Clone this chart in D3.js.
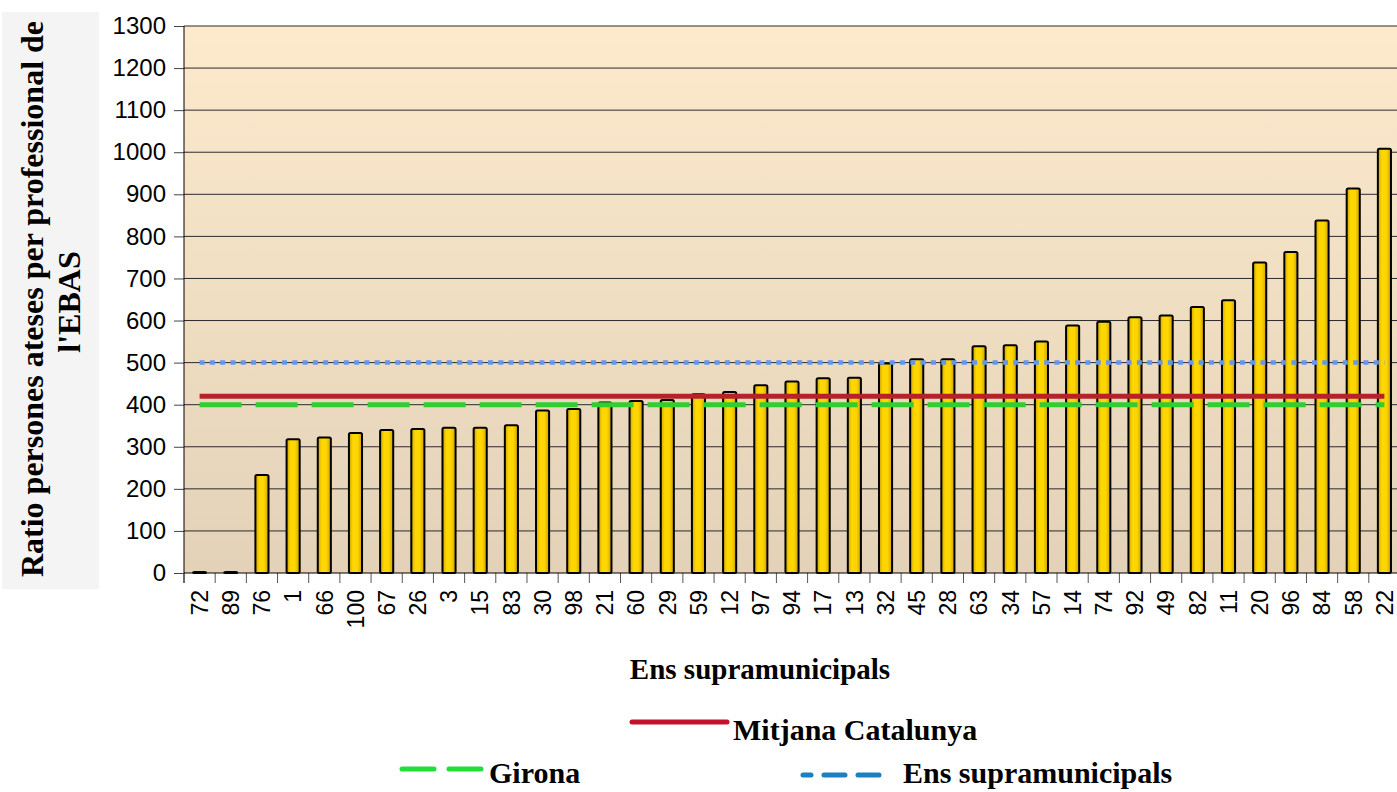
<!DOCTYPE html>
<html>
<head>
<meta charset="utf-8">
<script src="https://cdn.jsdelivr.net/npm/d3@7"></script>
<style>
  html, body { margin: 0; padding: 0; background: #fff; }
  svg { display: block; }
</style>
</head>
<body>
<div id="chart"></div>
<script>
// categories (Ens supramunicipals), sorted by ratio
const categories = ['72','89','76','1','66','100','67','26','3','15','83','30','98','21','60','29','59','12','97','94',
  '17','13','32','45','28','63','34','57','14','74','92','49','82','11','20','96','84','58','22'];
const ratios = [0, 0, 233, 318, 322, 333, 340, 342, 345, 345, 351, 386, 390, 405, 409, 411, 425, 430, 446, 455,
  463, 464, 498, 508, 508, 539, 541, 550, 588, 597, 608, 612, 632, 648, 738, 763, 838, 914, 1008];
const mitjanaCatalunya = 420;
const girona = 400;
const ensSupramunicipals = 500;
const yTicks = [0,100,200,300,400,500,600,700,800,900,1000,1100,1200,1300];

const W = 1397, H = 792;
const plot = { left: 184, right: 1400, top: 26, bottom: 573 };

const svg = d3.select('#chart').append('svg')
  .attr('width', W).attr('height', H);

const defs = svg.append('defs');
const bg = defs.append('linearGradient').attr('id', 'bg')
  .attr('x1', 0).attr('y1', 0).attr('x2', 0).attr('y2', 1);
bg.append('stop').attr('offset', '0%').attr('stop-color', '#fdeacd');
bg.append('stop').attr('offset', '100%').attr('stop-color', '#e3d2b8');

const barGrad = defs.append('linearGradient').attr('id', 'bar')
  .attr('x1', 0).attr('y1', 0).attr('x2', 1).attr('y2', 0);
barGrad.append('stop').attr('offset', '0%').attr('stop-color', '#c9a200');
barGrad.append('stop').attr('offset', '30%').attr('stop-color', '#ffd700');
barGrad.append('stop').attr('offset', '65%').attr('stop-color', '#ffd500');
barGrad.append('stop').attr('offset', '100%').attr('stop-color', '#c9a200');

// y title panel
svg.append('rect').attr('x', 2).attr('y', 12).attr('width', 97).attr('height', 577)
  .attr('fill', '#f4f4f4');

// plot background
svg.append('rect')
  .attr('x', plot.left).attr('y', plot.top)
  .attr('width', W - plot.left).attr('height', plot.bottom - plot.top)
  .attr('fill', 'url(#bg)');

const x = d3.scaleBand()
  .domain(categories)
  .range([plot.left, plot.right])
  .paddingInner(0.58)
  .paddingOuter(0.29);

const y = d3.scaleLinear()
  .domain([0, 1300])
  .range([plot.bottom, plot.top]);

// gridlines + y axis
const yAxis = svg.append('g')
  .attr('transform', `translate(${plot.left},0)`)
  .call(d3.axisLeft(y).tickValues(yTicks).tickFormat(d3.format('d')).tickSize(10).tickPadding(8));
yAxis.select('.domain').remove();
yAxis.selectAll('.tick line').attr('stroke', '#444');
yAxis.selectAll('.tick text')
  .attr('font-family', '"Liberation Sans Narrow", "Liberation Sans", Arial, sans-serif')
  .attr('font-size', 24)
  .attr('fill', '#000');

svg.append('g')
  .selectAll('line')
  .data(yTicks.filter(d => d > 0))
  .enter()
  .append('line')
  .attr('x1', plot.left).attr('x2', W)
  .attr('y1', d => y(d)).attr('y2', d => y(d))
  .attr('stroke', '#2a2a2a')
  .attr('stroke-width', 1);

// bars
svg.append('g')
  .selectAll('rect')
  .data(ratios)
  .enter()
  .append('rect')
  .attr('x', (d, i) => x(categories[i]))
  .attr('y', d => y(d) - (d === 0 ? 1 : 0))
  .attr('width', x.bandwidth())
  .attr('height', d => y(0) - y(d) + (d === 0 ? 1 : 0))
  .attr('fill', 'url(#bar)')
  .attr('stroke', '#000')
  .attr('stroke-width', 2)
  .attr('rx', 1.5);

// reference lines (one point per category)
const refLine = v => d3.line()
  .x(d => x(d) + x.bandwidth() / 2)
  .y(() => y(v))(categories);

svg.append('path').attr('d', refLine(ensSupramunicipals))
  .attr('fill', 'none').attr('stroke', '#6595ec').attr('stroke-width', 4.5)
  .attr('stroke-dasharray', '5,5.3');
svg.append('path').attr('d', refLine(girona))
  .attr('fill', 'none').attr('stroke', '#33cc33').attr('stroke-width', 5)
  .attr('stroke-dasharray', '42,14');
svg.append('path').attr('d', refLine(mitjanaCatalunya))
  .attr('fill', 'none').attr('stroke', '#b5222a').attr('stroke-width', 5);

// left axis line
svg.append('line')
  .attr('x1', plot.left).attr('x2', plot.left)
  .attr('y1', plot.top).attr('y2', plot.bottom + 10)
  .attr('stroke', '#000').attr('stroke-width', 1);

// x axis
const xBoundaries = d3.range(categories.length + 1).map(i => plot.left + i * x.step());
svg.append('g')
  .selectAll('line')
  .data(xBoundaries)
  .enter()
  .append('line')
  .attr('x1', d => d).attr('x2', d => d)
  .attr('y1', plot.bottom).attr('y2', plot.bottom + 10)
  .attr('stroke', '#555');
svg.append('line')
  .attr('x1', plot.left).attr('x2', W)
  .attr('y1', plot.bottom).attr('y2', plot.bottom)
  .attr('stroke', '#000');

svg.append('g')
  .selectAll('text')
  .data(categories)
  .enter()
  .append('text')
  .attr('transform', d => `translate(${x(d) + x.bandwidth() / 2},590) rotate(-90)`)
  .attr('dy', '0.36em')
  .attr('text-anchor', 'end')
  .attr('font-family', '"Liberation Sans", Arial, sans-serif')
  .attr('font-size', 23)
  .text(d => d);

// titles
const serif = '"Liberation Serif", "Times New Roman", serif';
svg.append('text')
  .attr('x', 760).attr('y', 679)
  .attr('text-anchor', 'middle')
  .attr('font-family', serif).attr('font-weight', 'bold').attr('font-size', 29)
  .text('Ens supramunicipals');

svg.append('text')
  .attr('transform', 'translate(43,299) rotate(-90)')
  .attr('text-anchor', 'middle')
  .attr('font-family', serif).attr('font-weight', 'bold').attr('font-size', 32)
  .text('Ratio persones ateses per professional de');
svg.append('text')
  .attr('transform', 'translate(80,302) rotate(-90)')
  .attr('text-anchor', 'middle')
  .attr('font-family', serif).attr('font-weight', 'bold').attr('font-size', 32)
  .text("l'EBAS");

// legend
const legend = svg.append('g')
  .attr('font-family', serif).attr('font-weight', 'bold').attr('font-size', 30);

legend.append('line')
  .attr('x1', 632).attr('x2', 727).attr('y1', 722).attr('y2', 722)
  .attr('stroke', '#c4122c').attr('stroke-width', 5).attr('stroke-linecap', 'round');
legend.append('text').attr('x', 733).attr('y', 740).text('Mitjana Catalunya');

legend.append('line')
  .attr('x1', 402).attr('x2', 481).attr('y1', 769).attr('y2', 769)
  .attr('stroke', '#22dd3a').attr('stroke-width', 5).attr('stroke-linecap', 'round')
  .attr('stroke-dasharray', '32,15');
legend.append('text').attr('x', 489).attr('y', 783).text('Girona');

legend.append('line')
  .attr('x1', 803).attr('x2', 884).attr('y1', 775).attr('y2', 775)
  .attr('stroke', '#1a80c2').attr('stroke-width', 5).attr('stroke-linecap', 'round')
  .attr('stroke-dasharray', '8,13,21,13,21');
legend.append('text').attr('x', 903).attr('y', 783).text('Ens supramunicipals');
</script>
</body>
</html>
